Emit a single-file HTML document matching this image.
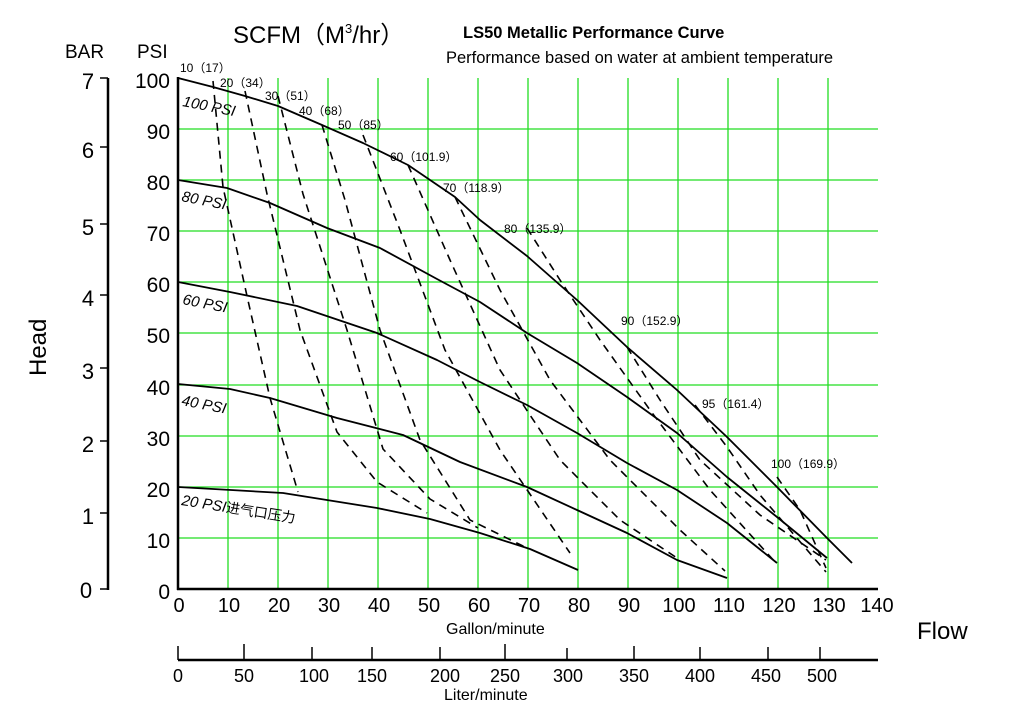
<!DOCTYPE html>
<html><head><meta charset="utf-8"><style>body{margin:0;background:#fff}svg{display:block}</style></head><body>
<svg width="1011" height="708" xmlns="http://www.w3.org/2000/svg" font-family="Liberation Sans, Noto Sans CJK SC, sans-serif">
<g stroke="#22dd22" stroke-width="1.3">
<line x1="228" y1="78" x2="228" y2="589"/><line x1="278" y1="78" x2="278" y2="589"/><line x1="328" y1="78" x2="328" y2="589"/><line x1="378" y1="78" x2="378" y2="589"/><line x1="428" y1="78" x2="428" y2="589"/><line x1="478" y1="78" x2="478" y2="589"/><line x1="528" y1="78" x2="528" y2="589"/><line x1="578" y1="78" x2="578" y2="589"/><line x1="628" y1="78" x2="628" y2="589"/><line x1="678" y1="78" x2="678" y2="589"/><line x1="728" y1="78" x2="728" y2="589"/><line x1="778" y1="78" x2="778" y2="589"/><line x1="828" y1="78" x2="828" y2="589"/>
<line x1="178" y1="538" x2="878" y2="538"/><line x1="178" y1="487" x2="878" y2="487"/><line x1="178" y1="436" x2="878" y2="436"/><line x1="178" y1="385" x2="878" y2="385"/><line x1="178" y1="333" x2="878" y2="333"/><line x1="178" y1="282" x2="878" y2="282"/><line x1="178" y1="231" x2="878" y2="231"/><line x1="178" y1="180" x2="878" y2="180"/><line x1="178" y1="129" x2="878" y2="129"/>
</g>
<g fill="none" stroke="#000" stroke-width="1.8" stroke-linejoin="round">
<polyline points="178,78 213,87 245,96 278,106 322,125 363,143 408,165 455,197 480,220 527,256 577,300 627,347 677,390 727,437 777,487 827,538 852,563"/>
<polyline points="178,180 227,188 270,203 327,228 380,248 437,279 480,302 527,333 577,363 627,397 677,433 727,477 777,517 827,558"/>
<polyline points="178,282 230,292 297,306 377,333 437,360 480,382 527,405 577,433 627,463 677,490 727,523 777,563"/>
<polyline points="178,384 230,389 270,398 337,418 403,435 460,462 527,487 577,510 627,533 677,560 727,578"/>
<polyline points="178,487 283,493 377,508 430,519 480,533 530,549 578,570"/>
</g>
<g fill="none" stroke="#000" stroke-width="1.6" stroke-dasharray="8,6">
<polyline points="213,81 223,187 247,296 270,398 298,492"/>
<polyline points="245,91 267,194 300,330 337,432 377,482 427,513"/>
<polyline points="278,96 303,194 347,330 383,449 430,499 478,528"/>
<polyline points="322,125 345,200 380,330 420,440 470,520 527,548"/>
<polyline points="363,135 400,230 445,350 500,450 570,553"/>
<polyline points="408,165 450,260 500,370 560,460 620,520 680,560"/>
<polyline points="455,197 500,290 550,380 610,460 680,530 725,571"/>
<polyline points="527,228 560,280 600,340 650,410 710,490 776,563"/>
<polyline points="627,347 660,400 700,460 760,515 826,560"/>
<polyline points="695,405 727,447 760,495 826,572"/>
<polyline points="777,477 800,510 826,568"/>
</g>
<g stroke="#000" stroke-width="2.5">
<line x1="178" y1="77" x2="178" y2="590"/><line x1="177" y1="589" x2="878" y2="589"/>
<line x1="108" y1="78" x2="108" y2="590"/>
<line x1="178" y1="660" x2="878" y2="660"/>
</g>
<g stroke="#000" stroke-width="1.5">
<line x1="100" y1="78" x2="108" y2="78"/><line x1="100" y1="147" x2="108" y2="147"/><line x1="100" y1="224" x2="108" y2="224"/><line x1="100" y1="295" x2="108" y2="295"/><line x1="100" y1="368" x2="108" y2="368"/><line x1="100" y1="441" x2="108" y2="441"/><line x1="100" y1="513" x2="108" y2="513"/><line x1="100" y1="589" x2="108" y2="589"/>
<line x1="178" y1="646" x2="178" y2="660"/><line x1="244" y1="644" x2="244" y2="660"/><line x1="312" y1="647" x2="312" y2="660"/><line x1="372" y1="647" x2="372" y2="660"/><line x1="440" y1="647" x2="440" y2="660"/><line x1="505" y1="644" x2="505" y2="660"/><line x1="567" y1="648" x2="567" y2="660"/><line x1="634" y1="646" x2="634" y2="660"/><line x1="700" y1="647" x2="700" y2="660"/><line x1="768" y1="647" x2="768" y2="660"/><line x1="820" y1="647" x2="820" y2="660"/>
</g>
<g font-size="21" text-anchor="end" fill="#000">
<text x="170" y="88">100</text><text x="170" y="139">90</text><text x="170" y="190">80</text><text x="170" y="241">70</text><text x="170" y="292">60</text><text x="170" y="343">50</text><text x="170" y="395">40</text><text x="170" y="446">30</text><text x="170" y="497">20</text><text x="170" y="548">10</text><text x="170" y="599">0</text>
</g>
<g font-size="22" text-anchor="middle" fill="#000">
<text x="88" y="89">7</text><text x="88" y="158">6</text><text x="88" y="235">5</text><text x="88" y="306">4</text><text x="88" y="379">3</text><text x="88" y="452">2</text><text x="88" y="524">1</text><text x="86" y="598">0</text>
</g>
<g font-size="20" text-anchor="middle" fill="#000">
<text x="179" y="612">0</text><text x="229" y="612">10</text><text x="279" y="612">20</text><text x="329" y="612">30</text><text x="379" y="612">40</text><text x="429" y="612">50</text><text x="479" y="612">60</text><text x="529" y="612">70</text><text x="579" y="612">80</text><text x="629" y="612">90</text><text x="679" y="612">100</text><text x="729" y="612">110</text><text x="779" y="612">120</text><text x="829" y="612">130</text><text x="877" y="612">140</text>
</g>
<g font-size="18" text-anchor="middle" fill="#000">
<text x="178" y="682">0</text><text x="244" y="682">50</text><text x="314" y="682">100</text><text x="372" y="682">150</text><text x="445" y="682">200</text><text x="505" y="682">250</text><text x="568" y="682">300</text><text x="634" y="682">350</text><text x="700" y="682">400</text><text x="766" y="682">450</text><text x="822" y="682">500</text>
</g>
<text x="446" y="634" font-size="16">Gallon/minute</text>
<text x="444" y="700" font-size="16">Liter/minute</text>
<text x="917" y="639" font-size="24">Flow</text>
<text transform="translate(46,376) rotate(-90)" font-size="24">Head</text>
<text x="65" y="58" font-size="19">BAR</text>
<text x="137" y="58" font-size="19">PSI</text>
<text x="233" y="43" font-size="24">SCFM（M<tspan font-size="13" dy="-10">3</tspan><tspan dy="10">/hr）</tspan></text>
<text x="463" y="38" font-size="16.5" font-weight="bold">LS50 Metallic Performance Curve</text>
<text x="446" y="63" font-size="16.5">Performance based on water at ambient temperature</text>
<g font-size="15" font-style="italic" fill="#000">
<text transform="translate(182,106) rotate(11)">100 PSI</text>
<text transform="translate(181,201) rotate(11)">80 PSI</text>
<text transform="translate(182,304) rotate(11)">60 PSI</text>
<text transform="translate(181,405) rotate(11)">40 PSI</text>
<text transform="translate(181,505) rotate(9)">20 PSI<tspan font-style="normal" font-size="14">进气口压力</tspan></text>
</g>
<g font-size="12" fill="#000">
<text x="180" y="72">10（17）</text><text x="220" y="87">20（34）</text><text x="265" y="100">30（51）</text><text x="299" y="115">40（68）</text><text x="338" y="129">50（85）</text><text x="390" y="161">60（101.9）</text><text x="443" y="192">70（118.9）</text><text x="504" y="233">80（135.9）</text><text x="621" y="325">90（152.9）</text><text x="702" y="408">95（161.4）</text><text x="771" y="468">100（169.9）</text>
</g>
</svg>
</body></html>
